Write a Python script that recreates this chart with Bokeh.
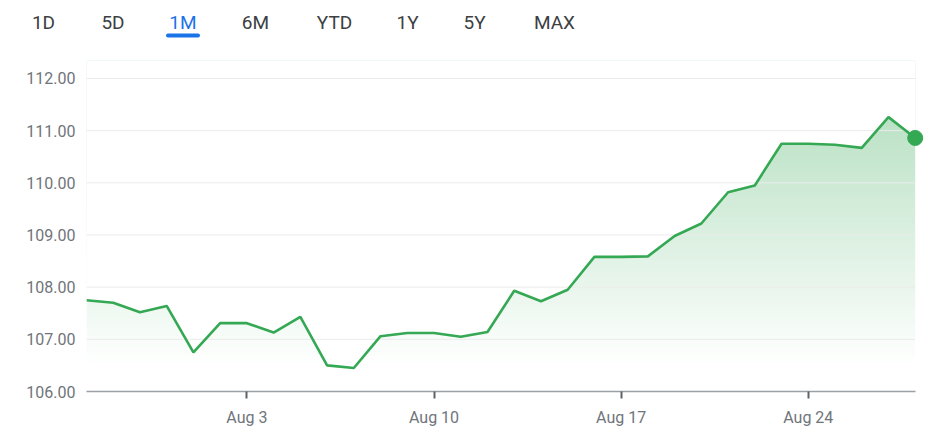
import numpy as np
import pandas as pd
from bokeh.plotting import figure
from bokeh.layouts import column
from bokeh.models import Range1d, FixedTicker, DatetimeTickFormatter, PrintfTickFormatter, ColumnDataSource
from bokeh.core.properties import value
from bokeh.embed import file_html
from bokeh.resources import INLINE

# ---------------- data ----------------
dates = [
    "2020-07-28", "2020-07-29", "2020-07-30", "2020-07-31",
    "2020-08-01", "2020-08-02", "2020-08-03", "2020-08-04", "2020-08-05",
    "2020-08-06", "2020-08-07", "2020-08-08", "2020-08-09", "2020-08-10",
    "2020-08-11", "2020-08-12", "2020-08-13", "2020-08-14", "2020-08-15",
    "2020-08-16", "2020-08-17", "2020-08-18", "2020-08-19", "2020-08-20",
    "2020-08-21", "2020-08-22", "2020-08-23", "2020-08-24", "2020-08-25",
    "2020-08-26", "2020-08-27", "2020-08-28",
]
prices = [
    107.75, 107.70, 107.52, 107.64,
    106.75, 107.31, 107.31, 107.13, 107.43,
    106.50, 106.45, 107.06, 107.12, 107.12,
    107.05, 107.14, 107.93, 107.73, 107.95,
    108.58, 108.58, 108.59, 108.98, 109.22,
    109.82, 109.95, 110.75, 110.75, 110.73,
    110.67, 111.26, 110.86,
]
y_ticks = [106, 107, 108, 109, 110, 111, 112]
x_tick_dates = ["2020-08-03", "2020-08-10", "2020-08-17", "2020-08-24"]
tabs = ["1D", "5D", "1M", "6M", "YTD", "1Y", "5Y", "MAX"]
selected_tab = "1M"

# ---------------- styling / layout ----------------
GREEN = "#34a853"
BLUE = "#1a73e8"
LABEL = "#70757a"
FONT = "Roboto"
tab_x = [43, 112.5, 182.5, 255, 334, 407, 474, 554]

xs = (pd.to_datetime(dates).astype("int64") // 10**6).astype(float).tolist()
tick_ms = (pd.to_datetime(x_tick_dates).astype("int64") // 10**6).astype(float).tolist()
DAY = 86400000.0
y_bottom = 106.0
y_top = 112.345
x_end = xs[-1] + 0.46 * DAY

# ---------------- tab bar ----------------
t = figure(width=940, height=50, x_range=Range1d(0, 940), y_range=Range1d(50, 0),
           min_border=0, output_backend="svg", toolbar_location=None)
t.frame_align = False
t.axis.visible = False
t.grid.visible = False
t.outline_line_color = None
tab_src = ColumnDataSource(dict(
    x=tab_x, y=[21.7] * len(tabs), text=tabs,
    color=[BLUE if s == selected_tab else "#3c4043" for s in tabs]))
t.text(x="x", y="y", text="text", source=tab_src, text_color="color",
       text_align="center", text_baseline="middle",
       text_font=value(FONT), text_font_size="19px")
sel_x = tab_x[tabs.index(selected_tab)]
t.segment(x0=[sel_x - 15], x1=[sel_x + 15], y0=[35], y1=[35],
          line_color=BLUE, line_width=4, line_cap="round")

# ---------------- chart ----------------
p = figure(width=940, height=389, x_axis_type="datetime",
           x_range=Range1d(xs[0], x_end), y_range=Range1d(y_bottom, y_top),
           min_border_left=86, min_border_right=13, min_border_top=10, min_border_bottom=48,
           output_backend="svg", toolbar_location=None)
p.frame_align = False
p.outline_line_color = None
p.grid.visible = False
p.background_fill_color = "white"

# gradient fill under the line: gradient image + white mask above the line
N = 331
vmin, vmax = min(prices), max(prices)
ycent = y_bottom + (np.arange(N) + 0.5) * (y_top - y_bottom) / N
alpha = 0.34 * np.clip((ycent - vmin) / (vmax - vmin), 0, 1)
img = np.empty((N, 2), dtype=np.uint32)
view = img.view(dtype=np.uint8).reshape((N, 2, 4))
view[..., 0] = 52
view[..., 1] = 168
view[..., 2] = 83
view[..., 3] = (alpha * 255).astype(np.uint8)[:, None]
p.image_rgba(image=[img], x=xs[0], y=y_bottom, dw=xs[-1] - xs[0], dh=y_top - y_bottom)
p.varea(x=xs, y1=prices, y2=[y_top] * len(xs), fill_color="white")

# grid lines
p.segment(x0=[xs[0]] * len(y_ticks), x1=[xs[-1]] * len(y_ticks), y0=y_ticks, y1=y_ticks,
          line_color="#ebebeb", line_width=1)

p.line(xs, prices, line_color=GREEN, line_width=2.6)
p.scatter(x=[xs[-1]], y=[prices[-1]], size=15, fill_color=GREEN, line_color=GREEN)

# axes
p.xaxis.ticker = FixedTicker(ticks=tick_ms)
fmt = "%b %-d"
p.xaxis.formatter = DatetimeTickFormatter(days=fmt, months=fmt, hours=fmt, years=fmt)
p.xaxis.bounds = (xs[0], xs[-1])
p.xaxis.axis_line_color = "#9aa0a6"
p.xaxis.axis_line_width = 1.5
p.xaxis.major_tick_in = 0
p.xaxis.major_tick_out = 7
p.xaxis.major_tick_line_width = 2
p.xaxis.major_tick_line_color = "#5f6368"
p.xaxis.minor_tick_line_color = None
p.xaxis.major_label_standoff = 9
p.xaxis.major_label_text_font = FONT
p.xaxis.major_label_text_font_size = "16px"
p.xaxis.major_label_text_color = LABEL

p.yaxis.ticker = FixedTicker(ticks=y_ticks)
p.yaxis.formatter = PrintfTickFormatter(format="%.2f")
p.yaxis.axis_line_color = None
p.yaxis.major_tick_line_color = None
p.yaxis.minor_tick_line_color = None
p.yaxis.major_tick_in = 0
p.yaxis.major_tick_out = 0
p.yaxis.major_label_standoff = 11
p.yaxis.major_label_text_font = FONT
p.yaxis.major_label_text_font_size = "16px"
p.yaxis.major_label_text_color = LABEL

layout = column(t, p, spacing=0)
open("out.html", "w").write(file_html(layout, INLINE))
